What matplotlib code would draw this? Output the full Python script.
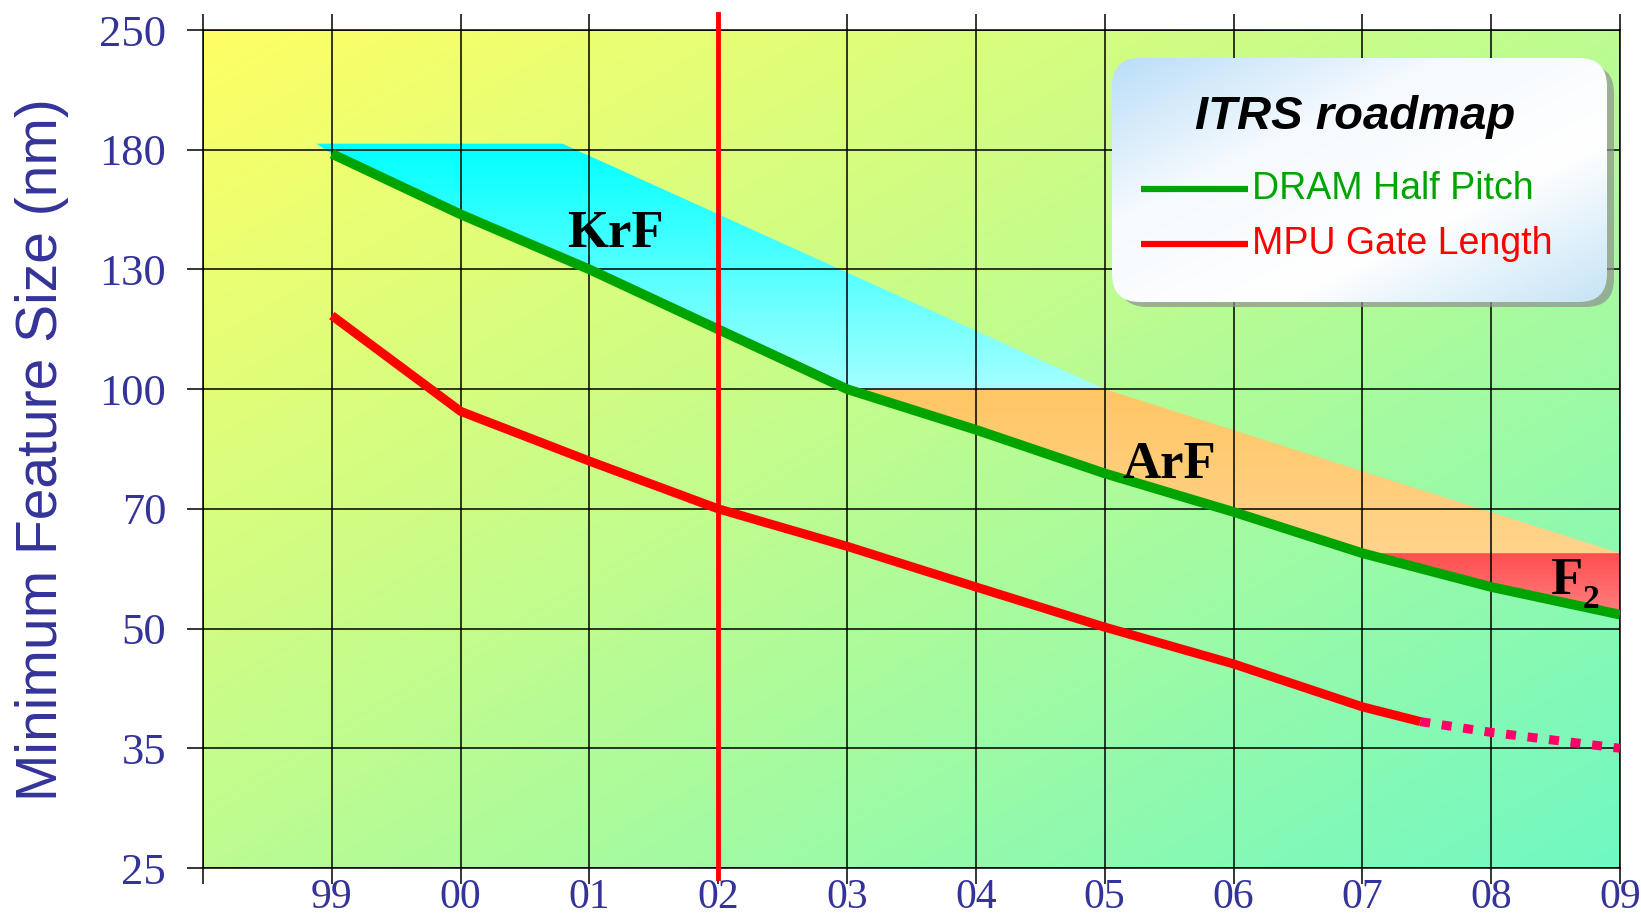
import numpy as np
import matplotlib
matplotlib.use("Agg")
import matplotlib.pyplot as plt
from matplotlib.patches import Polygon, FancyBboxPatch

# y axis: feature size levels (equally spaced on the chart)
size_ticks = [25, 35, 50, 70, 100, 130, 180, 250]
tick_years = list(range(1998, 2010))
tick_labels = [""] + ["%02d" % (y % 100) for y in tick_years[1:]]

# DRAM half pitch (nm), one value per year 1999..2009
dram_years = list(range(1999, 2010))
dram_nm = [178, 151, 130, 114, 100, 88.6, 77.8, 69.4, 61.8, 56.2, 52.0]

# MPU gate length (nm): solid part and projected (dotted) part
mpu_years = [1999, 2000, 2001, 2002, 2003, 2004, 2005, 2006, 2007, 2007.45]
mpu_nm = [117.5, 93.6, 80.7, 70, 63, 56.2, 50.2, 45, 39.6, 37.9]
mpu_proj_years = [2007.45, 2008, 2009]
mpu_proj_nm = [37.9, 36.7, 35]

# upper edge of the lithography bands
edge_years = [1998.88, 2000.79, 2005.0, 2009]
edge_nm = [183, 183, 100, 61.8]
current_year = 2002

series_names = ["DRAM Half Pitch", "MPU Gate Length"]
series_colors = ["#00A400", "#FF0000"]
blue = "#333399"

plt.rcParams["font.family"] = ["Liberation Serif", "DejaVu Serif"]

log_ticks = np.log(size_ticks)
pos = np.arange(len(size_ticks))


def fwd(v):
    return np.interp(np.log(np.clip(v, 1e-3, None)), log_ticks, pos)


def inv(p):
    return np.exp(np.interp(p, pos, log_ticks))


W, H = 1641, 918
fig = plt.figure(figsize=(W / 100, H / 100), dpi=100)
ax = fig.add_axes([203 / W, 1 - 868 / H, 1417 / W, 838 / H])
ax.set_yscale("function", functions=(fwd, inv))
ax.set_xlim(1998, 2009)
ax.set_ylim(25, 250)


def ramp(t, stops):
    t = np.clip(t, 0, 1)
    xs = np.linspace(0, 1, len(stops))
    stops = np.array(stops, float) / 255
    return np.stack([np.interp(t, xs, stops[:, k]) for k in range(3)], axis=-1)


# background diagonal gradient
u, v = np.meshgrid(np.linspace(0, 1, 400), np.linspace(0, 1, 300))
bg = ramp((u + v) / 2, [(255, 255, 100), (188, 252, 145), (112, 248, 195)])
ax.imshow(bg, extent=[0, 1, 0, 1], transform=ax.transAxes, aspect="auto",
          zorder=0, interpolation="bilinear")

to_axes = ax.transData + ax.transAxes.inverted()


def grad_fill(verts, top_rgb, bot_rgb):
    verts = np.array(verts, float)
    patch = Polygon(verts, closed=True, transform=ax.transData,
                    facecolor="none", edgecolor="none")
    ax.add_patch(patch)
    fr = to_axes.transform(verts)[:, 1]
    yy = np.linspace(1, 0, 400)
    t = (fr.max() - yy) / (fr.max() - fr.min())
    img = ramp(t, [top_rgb, bot_rgb])[:, None, :]
    im = ax.imshow(img, extent=[0, 1, 0, 1], transform=ax.transAxes,
                   aspect="auto", zorder=1, interpolation="bilinear")
    im.set_clip_path(patch)


dy = dict(zip(dram_years, dram_nm))
krf = [(edge_years[0], edge_nm[0]), (edge_years[1], edge_nm[1]), (edge_years[2], edge_nm[2])]
krf += [(y, dy[y]) for y in dram_years if y <= 2003][::-1]
arf = [(y, dy[y]) for y in dram_years if 2003 <= y <= 2007]
arf = [(2003, 100), (edge_years[2], edge_nm[2]), (edge_years[3], edge_nm[3])] + arf[::-1]
f2 = [(2007, dy[2007]), (2009, dy[2007])] + [(y, dy[y]) for y in dram_years if y >= 2007][::-1]

grad_fill(krf, (0, 255, 255), (165, 255, 255))
grad_fill(arf, (255, 198, 100), (255, 212, 140))
grad_fill(f2, (255, 78, 78), (255, 128, 128))

# grid + axes
ax.set_axisbelow(False)
ax.grid(True, color="black", lw=1.1)
for s in ax.spines.values():
    s.set_linewidth(1.1)
ax.set_yticks(size_ticks)
ax.set_yticklabels([str(s) for s in size_ticks])
ax.yaxis.set_minor_locator(matplotlib.ticker.NullLocator())
ax.set_xticks(tick_years)
ax.set_xticklabels(tick_labels)
ax.tick_params(axis="y", left=True, right=False, direction="out", length=11.5,
               width=1.1, pad=15, labelsize=32, labelcolor=blue)
ax.tick_params(axis="x", bottom=True, top=True, labeltop=False, direction="out",
               length=11.5, width=1.1, pad=-4, labelsize=30, labelcolor=blue)

# data lines
ax.plot(dram_years, dram_nm, color=series_colors[0], lw=7, zorder=3,
        solid_capstyle="butt", solid_joinstyle="round")
ax.plot(mpu_years, mpu_nm, color=series_colors[1], lw=6.5, zorder=3,
        solid_capstyle="butt", solid_joinstyle="round")
ax.plot(mpu_proj_years, mpu_proj_nm, color="#FF0066", lw=6.5, zorder=3,
        linestyle=(0, (1.1, 1.3)), dash_capstyle="butt")
ax.axvline(current_year, ymin=-10 / 838, ymax=1 + 16 / 838, clip_on=False,
           color="#FF0000", lw=3.5, zorder=4)

# band labels
ax.text(2001.2, 138, "KrF", ha="center", va="baseline", fontsize=38,
        fontweight="bold", zorder=5)
ax.text(2005.5, 76.7, "ArF", ha="center", va="baseline", fontsize=38,
        fontweight="bold", zorder=5)
ax.text(2008.46, 55.1, "F", ha="left", va="baseline", fontsize=38,
        fontweight="bold", zorder=5)
ax.text(2008.71, 53.0, "2", ha="left", va="baseline", fontsize=24,
        fontweight="bold", zorder=5)

ax.set_ylim(25, 250)
ax.set_xlim(1998, 2009)

fig.text(42 / W, 1 - 450 / H, "Minimum Feature Size (nm)", rotation=90,
         ha="center", va="center", fontsize=41, color=blue,
         family=["Liberation Sans", "DejaVu Sans"])

# legend box
la = fig.add_axes([1100 / W, 1 - 312 / H, 520 / W, 265 / H])
la.set_xlim(0, 520)
la.set_ylim(0, 265)
la.axis("off")
la.add_patch(FancyBboxPatch((19, 5), 495, 242, boxstyle="round,pad=0,rounding_size=28",
                            fc="#909090", ec="none", alpha=0.7, zorder=1))
box = FancyBboxPatch((12, 10), 495, 244, boxstyle="round,pad=0,rounding_size=28",
                     fc="none", ec="none", zorder=2)
la.add_patch(box)
lu, lv = np.meshgrid(np.linspace(0, 1, 200), np.linspace(0, 1, 100))
lg = ramp((lu + lv) / 2, [(185, 222, 248), (245, 250, 254), (255, 255, 255),
                          (198, 228, 246)])
im = la.imshow(lg, extent=[12, 507, 10, 254], aspect="auto",
               interpolation="bilinear", zorder=2)
im.set_clip_path(box)
la.set_xlim(0, 520)
la.set_ylim(0, 265)
la.text(255, 195, "ITRS roadmap", ha="center", va="center", fontsize=34,
        fontweight="bold", style="italic", family=["Liberation Sans", "DejaVu Sans"],
        zorder=4)
for i, (name, col) in enumerate(zip(series_names, series_colors)):
    yy = 123 - i * 55
    la.plot([41, 148], [yy, yy], color=col, lw=4.5, solid_capstyle="butt", zorder=4)
    la.text(152, yy, name, ha="left", va="center", fontsize=27, color=col,
            family=["Liberation Sans", "DejaVu Sans"], zorder=4)

fig.savefig("out.png", dpi=100, facecolor="white")
